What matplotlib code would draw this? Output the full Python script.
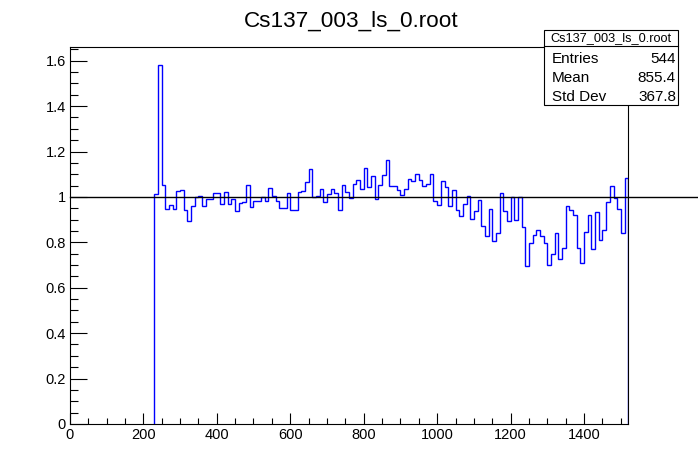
import numpy as np
import matplotlib
matplotlib.use("Agg")
import matplotlib.pyplot as plt
import matplotlib.patches as patches
from matplotlib.ticker import MultipleLocator, FuncFormatter

plt.rcParams['font.family'] = ['Liberation Sans', 'DejaVu Sans']

# histogram (ratio) - bins of width 10 starting at 230
x_start = 230
bin_width = 10
ratio = [
    1.014, 1.581, 1.054, 0.948, 0.965, 0.948, 1.027, 1.032, 0.943, 0.895,
    0.961, 0.998, 1.005, 0.961, 0.993, 0.993, 1.018, 1.018, 0.970, 1.023,
    0.970, 0.992, 0.939, 0.974, 0.979, 1.054, 0.957, 0.983, 0.983, 1.001,
    0.983, 1.041, 1.005, 0.983, 0.952, 0.952, 1.018, 0.943, 0.943, 1.023,
    1.027, 1.067, 1.124, 1.001, 1.005, 1.036, 0.979, 1.014, 1.036, 1.018,
    0.943, 1.054, 1.023, 0.996, 1.058, 1.076, 1.036, 1.129, 1.045, 1.094,
    0.992, 1.054, 1.098, 1.164, 1.049, 1.049, 1.032, 1.010, 1.036, 1.080,
    1.072, 1.102, 1.076, 1.049, 1.058, 1.102, 0.983, 0.965, 1.072, 1.045,
    0.961, 1.032, 0.943, 0.918, 0.971, 1.002, 0.904, 0.940, 0.988, 0.873,
    0.829, 0.948, 0.807, 0.839, 1.018, 0.940, 0.895, 0.999, 0.899, 0.999,
    0.868, 0.696, 0.799, 0.833, 0.855, 0.829, 0.799, 0.701, 0.749, 0.843,
    0.727, 0.776, 0.961, 0.943, 0.921, 0.776, 0.711, 0.846, 0.921, 0.771,
    0.935, 0.811, 0.855, 0.979, 1.049, 0.996, 0.948, 0.843, 1.085,
]
title = "Cs137_003_ls_0.root"
stat_labels = ["Entries", "Mean", "Std Dev"]
stat_values = ["544", "855.4", "367.8"]

W, H = 698, 471
fig = plt.figure(figsize=(W / 100, H / 100), dpi=100)
ax = fig.add_axes([0.1, 0.1, 0.8, 0.8])

edges = x_start + bin_width * np.arange(len(ratio) + 1)
ax.stairs(ratio, edges, baseline=0, color=(0, 0, 1), linewidth=1.0, zorder=3)

# reference line at 1, runs past the frame to the canvas edge
ax.plot([0, (W - 0.1 * W) / (0.8 * W)], [1, 1], color='black', linewidth=1.0,
        transform=ax.get_yaxis_transform(), clip_on=False, zorder=4)

ax.set_xlim(0, 1520)
ax.set_ylim(0, 1.05 * max(ratio))

ax.xaxis.set_major_locator(MultipleLocator(200))
ax.xaxis.set_minor_locator(MultipleLocator(50))
ax.yaxis.set_major_locator(MultipleLocator(0.2))
ax.yaxis.set_minor_locator(MultipleLocator(0.05))
ax.yaxis.set_major_formatter(FuncFormatter(lambda v, p: "%g" % round(v, 2)))

ax.tick_params(axis='both', which='both', direction='in', top=False, right=False,
               labelsize=10.5, width=0.8, pad=3)
ax.tick_params(axis='x', which='major', length=8)
ax.tick_params(axis='x', which='minor', length=4)
ax.tick_params(axis='y', which='major', length=12)
ax.tick_params(axis='y', which='minor', length=6)
for s in ax.spines.values():
    s.set_linewidth(0.8)

fig.text(351 / W, 1 - 21 / H, title, ha='center', va='center', fontsize=16.2)

# stats box
bx0, bx1, by0, by1, bsep = 544, 678, 30, 105, 45.7
box = patches.Rectangle((bx0 / W, 1 - by1 / H), (bx1 - bx0) / W, (by1 - by0) / H,
                        transform=fig.transFigure, facecolor='white', edgecolor='black',
                        linewidth=0.8, zorder=10)
fig.patches.append(box)
fig.add_artist(plt.Line2D([bx0 / W, bx1 / W], [1 - bsep / H, 1 - bsep / H],
                          color='black', linewidth=0.8, zorder=11))
fig.text((bx0 + bx1) / 2 / W, 1 - 38.3 / H, title, ha='center', va='center',
         fontsize=9.2, zorder=12)
for lab, val, yy in zip(stat_labels, stat_values, [59, 77.7, 96.7]):
    fig.text(552 / W, 1 - yy / H, lab, ha='left', va='center', fontsize=11, zorder=12)
    fig.text(676 / W, 1 - yy / H, val, ha='right', va='center', fontsize=11, zorder=12)

fig.savefig("out.png", dpi=100)
